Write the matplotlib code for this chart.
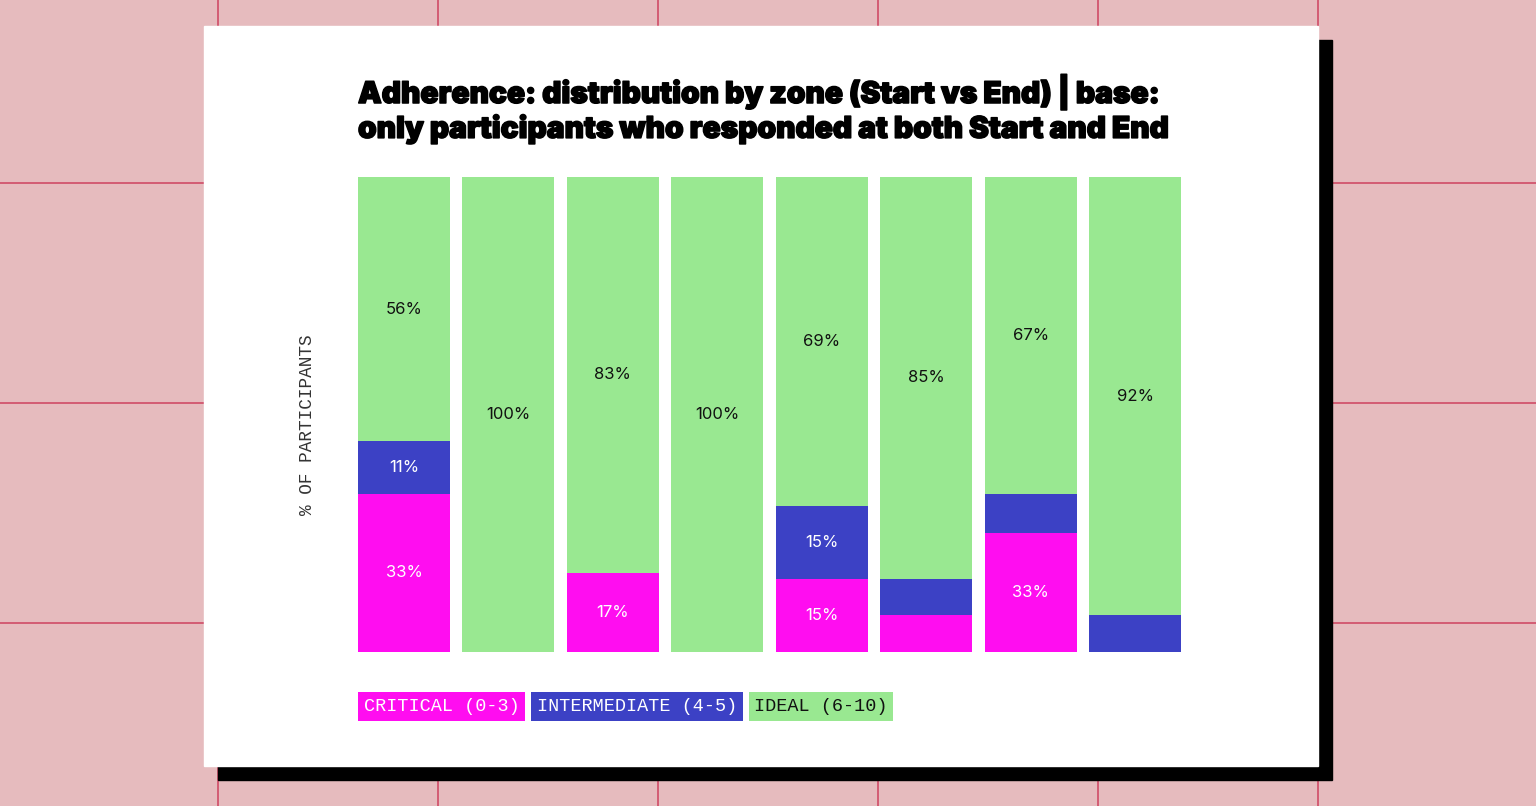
"""
Adherence by zone - stacked 100% bars on a pink grid card
"""

import matplotlib
matplotlib.use("Agg")
import matplotlib.pyplot as plt
import matplotlib.patheffects as pe
from matplotlib.patches import Rectangle
from matplotlib.lines import Line2D
import numpy as np

# ==============================================================================
# data
# ==============================================================================
GROUPS = ["1", "2", "3", "4", "5", "6", "7", "8"]
CRITICAL = [33.3, 0, 16.7, 0, 15.4, 7.7, 25.0, 0]
INTERMEDIATE = [11.1, 0, 0, 0, 15.4, 7.7, 8.3, 7.7]
IDEAL = [55.6, 100, 83.3, 100, 69.2, 84.6, 66.7, 92.3]

# labels as printed on the bars ('' = no label)
CRITICAL_LBL = ["33%", "", "17%", "", "15%", "", "33%", ""]
INTERMEDIATE_LBL = ["11%", "", "", "", "15%", "", "", ""]
IDEAL_LBL = ["56%", "100%", "83%", "100%", "69%", "85%", "67%", "92%"]

ZONES = ["CRITICAL (0-3)", "INTERMEDIATE (4-5)", "IDEAL (6-10)"]

TITLE = ("Adherence: distribution by zone (Start vs End) | base:\n"
         "only participants who responded at both Start and End")
YLABEL = "% OF PARTICIPANTS"

# ==============================================================================
# style
# ==============================================================================
W, H = 1536, 806
BG = "#E6BBBE"
GRID = "#D2546E"
C_CRIT = "#FF0DF0"
C_INT = "#3C41C5"
C_IDEAL = "#99E891"
MONO = ["Liberation Mono", "DejaVu Sans Mono"]
TITLE_FONT = ["Inter", "Roboto", "DejaVu Sans"]
LABEL_FONT = ["Inter", "Lato", "DejaVu Sans"]


def fx(px):
    return px / W


def fy(py):
    return 1 - py / H


def draw_background(fig):
    fig.patch.set_facecolor(BG)
    for x in [218, 438, 658, 878, 1098, 1318]:
        fig.add_artist(Line2D([fx(x), fx(x)], [0, 1], color=GRID, lw=1.3,
                              transform=fig.transFigure, zorder=0))
    for y in [183, 403, 623]:
        fig.add_artist(Line2D([0, 1], [fy(y), fy(y)], color=GRID, lw=1.3,
                              transform=fig.transFigure, zorder=0))
    # shadow + card
    fig.add_artist(Rectangle((fx(218), fy(780)), fx(1332) - fx(218), fy(40) - fy(780),
                             transform=fig.transFigure, color="black", zorder=1))
    fig.add_artist(Rectangle((fx(204), fy(766)), fx(1318) - fx(204), fy(26) - fy(766),
                             transform=fig.transFigure, color="white", zorder=2))


def main():
    fig = plt.figure(figsize=(W / 100, H / 100), dpi=100)
    draw_background(fig)

    ax = fig.add_axes([fx(358), fy(652), fx(1181) - fx(358), fy(177) - fy(652)])
    ax.set_zorder(3)
    ax.patch.set_alpha(0)

    x = np.arange(len(GROUPS))
    crit = np.array(CRITICAL)
    inter = np.array(INTERMEDIATE)
    ideal = np.array(IDEAL)
    width = 0.88

    segments = [
        (crit, np.zeros_like(crit), C_CRIT, CRITICAL_LBL, "white"),
        (inter, crit, C_INT, INTERMEDIATE_LBL, "white"),
        (ideal, crit + inter, C_IDEAL, IDEAL_LBL, "#111111"),
    ]
    for vals, bottom, color, lbls, tcolor in segments:
        ax.bar(x, vals, width, bottom=bottom, color=color, linewidth=0)
        for xi, v, b, t in zip(x, vals, bottom, lbls):
            if t:
                ax.text(xi, b + v / 2, t, ha="center", va="center", color=tcolor,
                        fontsize=12, family=LABEL_FONT)

    ax.set_xlim(-width / 2, len(GROUPS) - 1 + width / 2)
    ax.set_ylim(0, 100)
    ax.axis("off")

    # title (stroke to mimic the heavier display face)
    fig.text(fx(358), fy(73), TITLE, ha="left", va="top", fontsize=21.5,
             family=TITLE_FONT, weight="black", color="black", linespacing=1.16,
             zorder=4, path_effects=[pe.withStroke(linewidth=1.1, foreground="black")])

    # y label
    fig.text(fx(307), fy(425), YLABEL, rotation=90, ha="center", va="center",
             fontsize=12.8, family=MONO, color="#333333", zorder=4)

    # legend as coloured tags
    fig.canvas.draw()
    renderer = fig.canvas.get_renderer()
    xpos = 364
    tag_colors = [(C_CRIT, "white"), (C_INT, "white"), (C_IDEAL, "#111111")]
    for name, (bgc, tc) in zip(ZONES, tag_colors):
        t = fig.text(fx(xpos), fy(706.5), name, ha="left", va="center",
                     fontsize=13.3, family=MONO, color=tc, zorder=5,
                     bbox=dict(boxstyle="square,pad=0.3", fc=bgc, ec="none"))
        bb = t.get_bbox_patch()
        fig.canvas.draw()
        ext = bb.get_window_extent(renderer)
        xpos = ext.x1 + 6 + (xpos - ext.x0)

    fig.savefig("out.png", dpi=100, facecolor=fig.get_facecolor())
    plt.close(fig)


if __name__ == "__main__":
    main()
